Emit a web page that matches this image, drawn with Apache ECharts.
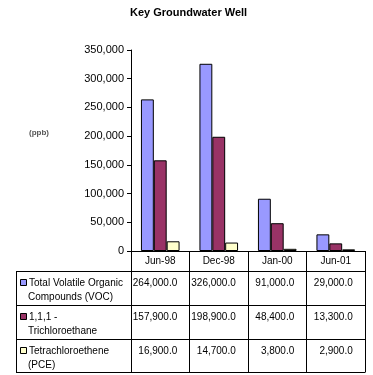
<!DOCTYPE html>
<html><head><meta charset="utf-8">
<script src="https://cdn.jsdelivr.net/npm/echarts@6/dist/echarts.min.js"></script>
<style>html,body{margin:0;padding:0;background:#fff}#c{width:373px;height:375px}</style>
</head><body><div id="c"></div>
<script>
const categories = ['Jun-98', 'Dec-98', 'Jan-00', 'Jun-01'];
const seriesNames = [['Total Volatile Organic', 'Compounds (VOC)'], ['1,1,1 -', 'Trichloroethane'], ['Tetrachloroethene', '(PCE)']];
const vocValues = [264000, 326000, 91000, 29000];
const tcaValues = [157900, 198900, 48400, 13300];
const pceValues = [16900, 14700, 3800, 2900];
const colors = ['#9999FF', '#993366', '#FFFFCC'];
const yTicks = [0, 50000, 100000, 150000, 200000, 250000, 300000, 350000];

const FONT = 'Liberation Sans, Arial, sans-serif';
const G = {left: 131, right: 8, top: 50, bottom: 124};
const chart = echarts.init(document.getElementById('c'));
const fmtAxis = v => v.toLocaleString('en-US');
const fmtTable = v => v.toLocaleString('en-US', {minimumFractionDigits: 1, maximumFractionDigits: 1});
const allSeries = [vocValues, tcaValues, pceValues];

chart.setOption({
  animation: false,
  title: {text: 'Key Groundwater Well', left: 130, top: 7, padding: 0,
    textStyle: {fontFamily: FONT, fontSize: 11, fontWeight: 'bold', color: '#000'}},
  grid: G,
  xAxis: {type: 'category', data: categories,
    axisLine: {lineStyle: {color: '#000', width: 1}},
    axisTick: {show: true, length: 121, lineStyle: {color: '#000'}},
    axisLabel: {fontFamily: FONT, fontSize: 10, color: '#000', margin: 5}},
  yAxis: {type: 'value', min: yTicks[0], max: yTicks[yTicks.length - 1], interval: 50000,
    axisLine: {show: true, lineStyle: {color: '#000'}},
    axisTick: {show: true, length: 4, lineStyle: {color: '#000'}},
    splitLine: {show: false},
    axisLabel: {fontFamily: FONT, fontSize: 11, color: '#000', margin: 7, formatter: fmtAxis}},
  series: allSeries.map((d, i) => ({
    type: 'bar', name: seriesNames[i].join(' '), data: d,
    barGap: '0%', barCategoryGap: '34%',
    itemStyle: {color: colors[i], borderColor: '#000', borderWidth: 1}
  }))
});

const rowTops = [271, 305, 339];
const tableBottom = 372;
const tableLeft = 16;
const tableRight = 373 - G.right;
const els = [];
[271, 305, 339, 372].forEach(y => els.push({type: 'line', shape: {x1: tableLeft, y1: y + 0.5, x2: tableRight + 0.5, y2: y + 0.5}, style: {stroke: '#000', lineWidth: 1}}));
els.push({type: 'line', shape: {x1: tableLeft + 0.5, y1: 271, x2: tableLeft + 0.5, y2: tableBottom + 1}, style: {stroke: '#000', lineWidth: 1}});
els.push({type: 'text', x: 29, y: 133, style: {text: '(ppb)', font: 'bold 8px ' + FONT, fill: '#555', verticalAlign: 'middle'}});
seriesNames.forEach((lines, i) => {
  const top = rowTops[i];
  els.push({type: 'rect', shape: {x: 20.5, y: top + 8.5, width: 6, height: 6}, style: {fill: colors[i], stroke: '#000', lineWidth: 1}});
  els.push({type: 'text', x: 29, y: top + 12, style: {text: lines[0], font: '10px ' + FONT, fill: '#000', verticalAlign: 'middle'}});
  els.push({type: 'text', x: 28, y: top + 26, style: {text: lines[1], font: '10px ' + FONT, fill: '#000', verticalAlign: 'middle'}});
  allSeries[i].forEach((v, j) => {
    const cx = chart.convertToPixel({xAxisIndex: 0}, categories[j]);
    els.push({type: 'text', x: cx + 17, y: top + 12, style: {text: fmtTable(v), font: '10px ' + FONT, fill: '#000', align: 'right', verticalAlign: 'middle'}});
  });
});
chart.setOption({graphic: els});
</script></body></html>
